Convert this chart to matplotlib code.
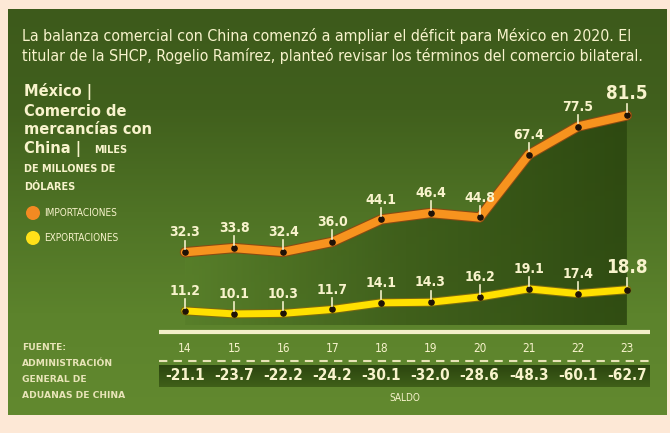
import matplotlib
matplotlib.use("Agg")
import matplotlib.pyplot as plt
import matplotlib.patheffects as pe
import numpy as np
from matplotlib.patches import Rectangle, Circle, Polygon
from matplotlib.colors import LinearSegmentedColormap

years = ["14", "15", "16", "17", "18", "19", "20", "21", "22", "23"]
importaciones = [32.3, 33.8, 32.4, 36.0, 44.1, 46.4, 44.8, 67.4, 77.5, 81.5]
exportaciones = [11.2, 10.1, 10.3, 11.7, 14.1, 14.3, 16.2, 19.1, 17.4, 18.8]
saldo = ["-21.1", "-23.7", "-22.2", "-24.2", "-30.1", "-32.0", "-28.6", "-48.3", "-60.1", "-62.7"]

title = ("La balanza comercial con China comenzó a ampliar el déficit para México en 2020. El\n"
         "titular de la SHCP, Rogelio Ramírez, planteó revisar los términos del comercio bilateral.")

W, H = 670, 433
fig = plt.figure(figsize=(W / 100, H / 100), dpi=100)
fig.patch.set_facecolor("#fde8d6")

CREAM = "#f8f3cc"
FONT = "DejaVu Sans"
COND = "condensed"

bg = fig.add_axes([0, 0, 1, 1])
bg.set_xlim(0, W)
bg.set_ylim(H, 0)
bg.axis("off")

grad = np.linspace(0, 1, 256).reshape(-1, 1)
cmap_panel = LinearSegmentedColormap.from_list("p", ["#3d5a1b", "#41601d", "#4f7325", "#5c832c", "#62892f"])
im = bg.imshow(grad, cmap=cmap_panel, extent=[8, 667, 415, 9], aspect="auto", zorder=0)
panel = Rectangle((8, 9), 659, 406, transform=bg.transData, facecolor="none")
bg.add_patch(panel)
im.set_clip_path(panel)

bg.text(22, 46, title, fontsize=11.4, color=CREAM, family=FONT, fontstretch=COND,
        va="center", ha="left", linespacing=1.35, zorder=5)

hdr = dict(fontsize=10.5, fontweight="bold", color=CREAM, family=FONT, va="center", zorder=5)
bg.text(24, 92, "México |", **hdr)
bg.text(24, 111, "Comercio de", **hdr)
bg.text(24, 130, "mercancías con", **hdr)
bg.text(24, 149, "China |", **hdr)
small = dict(fontsize=7, fontweight="bold", color=CREAM, family=FONT, va="center", zorder=5)
bg.text(94, 150, "MILES", **small)
bg.text(24, 169, "DE MILLONES DE", **small)
bg.text(24, 187, "DÓLARES", **small)

bg.add_patch(Circle((33, 213), 7, facecolor="#f28a22", edgecolor="none", zorder=5))
bg.text(44, 213, "IMPORTACIONES", fontsize=7.2, color=CREAM, family=FONT, fontstretch=COND, va="center", zorder=5)
bg.add_patch(Circle((33, 238), 7, facecolor="#ffe119", edgecolor="none", zorder=5))
bg.text(44, 238, "EXPORTACIONES", fontsize=7.2, color=CREAM, family=FONT, fontstretch=COND, va="center", zorder=5)

for yy, s in zip([347, 363, 379, 396], ["FUENTE:", "ADMINISTRACIÓN", "GENERAL DE", "ADUANAS DE CHINA"]):
    bg.text(22, yy, s, fontsize=6.6, fontweight="bold", color="#e8e4b8", family=FONT, va="center", zorder=5)

LX0, LX1 = 159, 650
bg.plot([LX0, LX1], [332, 332], color="#f3efc8", lw=3, solid_capstyle="butt", zorder=5)
cmap_band = LinearSegmentedColormap.from_list("b", ["#2b450f", "#406019"])
im2 = bg.imshow(grad, cmap=cmap_band, extent=[LX0, LX1, 387, 365], aspect="auto", zorder=2)
band = Rectangle((LX0, 365), LX1 - LX0, 22, transform=bg.transData, facecolor="none")
bg.add_patch(band)
im2.set_clip_path(band)
bg.plot([LX0, LX1], [361, 361], color="#e8e4b8", lw=1.5, ls=(0, (4, 3)), zorder=5)
bg.text(405, 398, "SALDO", fontsize=7.2, color=CREAM, family=FONT, fontstretch=COND, ha="center", va="center", zorder=5)

# data axes
top_px, bot_px = 90, 332
ax = fig.add_axes([LX0 / W, (H - bot_px) / H, (LX1 - LX0) / W, (bot_px - top_px) / H])
ax.set_facecolor("none")
ax.axis("off")
idx = np.arange(len(years))
px_per_i = 49.1
ax.set_xlim(-(185 - LX0) / px_per_i, (LX1 - 185) / px_per_i)
ppu = 2.78
zero_px = 342
ax.set_ylim((zero_px - bot_px) / ppu, (zero_px - top_px) / ppu)
ymin = ax.get_ylim()[0]

cmap_area = LinearSegmentedColormap.from_list("a", ["#587f2a", "#3d5c1a", "#2c4710"])
xs = np.linspace(0, 1, 256).reshape(1, -1)
area_img = ax.imshow(xs, cmap=cmap_area, extent=[0, 9, ymin + 2.5, 85], aspect="auto", zorder=1, alpha=0.9)
verts = [(0, ymin + 2.5)] + list(zip(idx, importaciones)) + [(9, ymin + 2.5)]
poly = Polygon(verts, closed=True, transform=ax.transData, facecolor="none", edgecolor="none")
ax.add_patch(poly)
area_img.set_clip_path(poly)

ax.plot(idx, importaciones, color="#f7931e", lw=6, solid_joinstyle="round", solid_capstyle="round", zorder=3,
        path_effects=[pe.Stroke(linewidth=7.5, foreground="#8a4a12"), pe.Normal()])
ax.plot(idx, exportaciones, color="#ffe000", lw=5, solid_joinstyle="round", solid_capstyle="round", zorder=3,
        path_effects=[pe.Stroke(linewidth=6.5, foreground="#7a6a10"), pe.Normal()])
ax.scatter(idx, importaciones, s=14, color="#1e1208", zorder=4)
ax.scatter(idx, exportaciones, s=14, color="#1e1208", zorder=4)

for series in (importaciones, exportaciones):
    for i, v in enumerate(series):
        last = i == len(series) - 1
        ax.plot([i, i], [v + 1.2, v + 4.2], color="#f3efc8", lw=1.2, zorder=4)
        ax.text(i, v + 4.6, f"{v:.1f}", fontsize=13.5 if last else 10, fontweight="bold", color=CREAM,
                family=FONT, fontstretch=COND, ha="center", va="bottom", zorder=5)

for i, (yr, s) in enumerate(zip(years, saldo)):
    xp = 185 + px_per_i * i
    bg.text(xp, 348, yr, fontsize=8.5, color=CREAM, family=FONT, fontstretch=COND, ha="center", va="center", zorder=5)
    bg.text(xp, 376, s, fontsize=11, fontweight="bold", color=CREAM, family=FONT, fontstretch=COND,
            ha="center", va="center", zorder=5)

fig.savefig("out.png", dpi=100, facecolor=fig.get_facecolor())
